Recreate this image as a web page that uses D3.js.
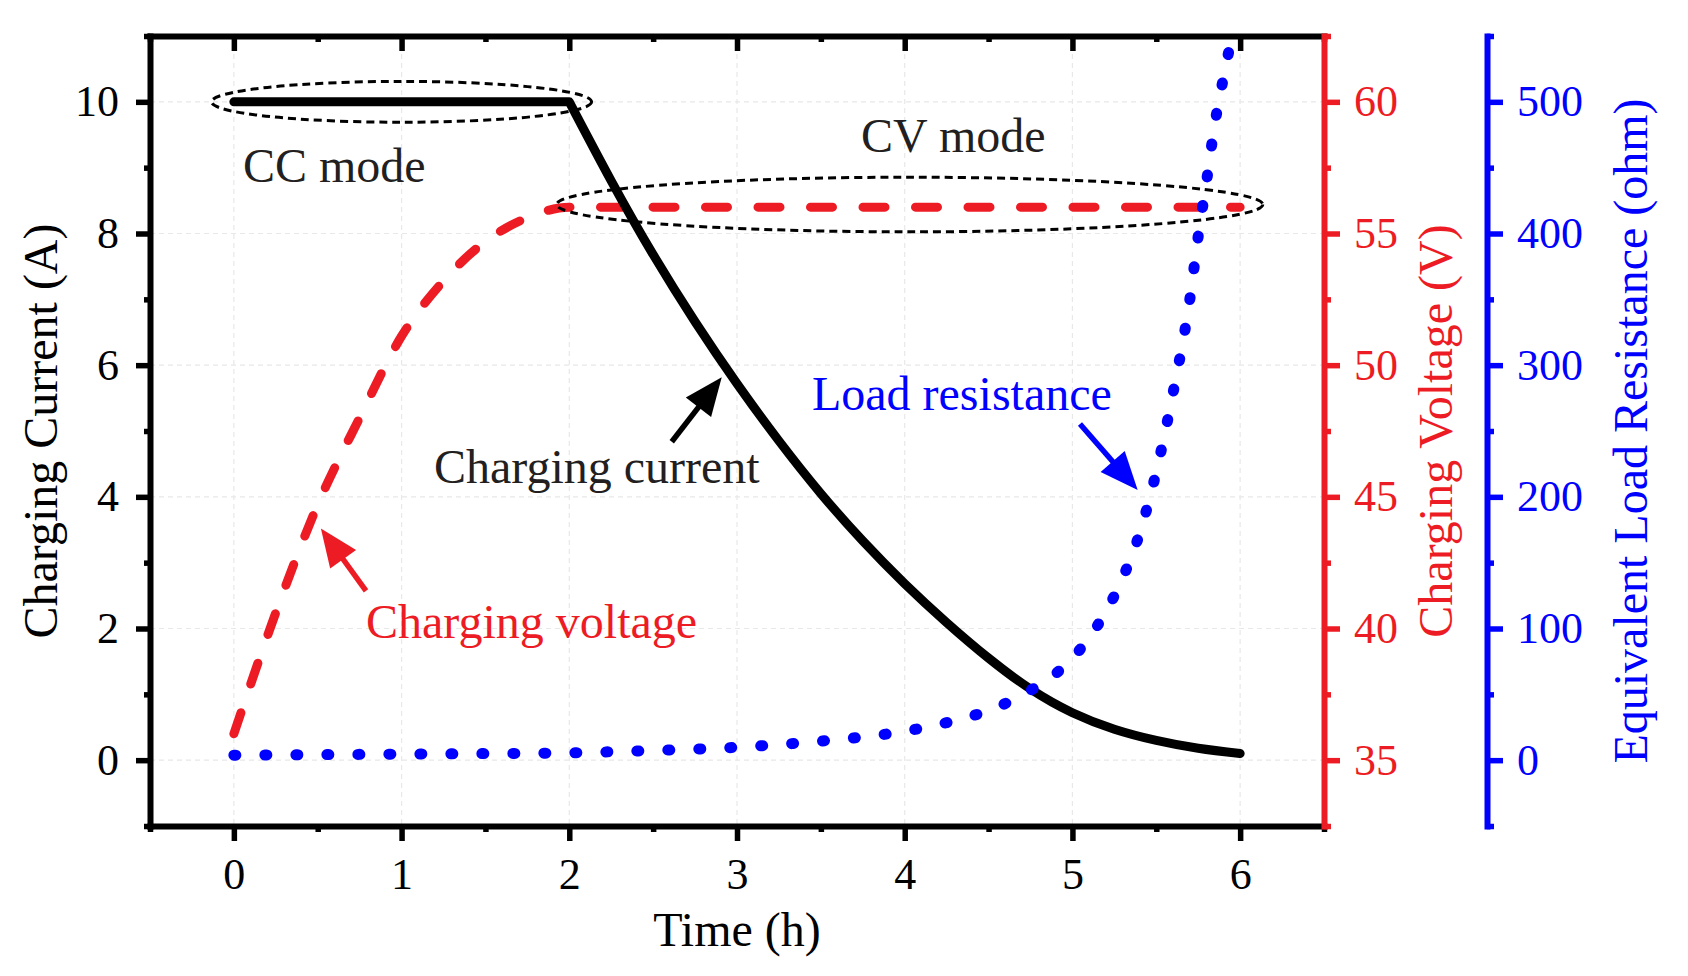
<!DOCTYPE html>
<html><head><meta charset="utf-8">
<script src="https://cdn.jsdelivr.net/npm/d3@7"></script>
<style>
html,body{margin:0;padding:0;background:#fff;}
svg{display:block;font-family:"Liberation Serif","Times New Roman",serif;}
</style></head><body>
<svg id="chart" width="1688" height="976"></svg>
<script>
// ---------- data ----------
const timeH    = [0,0.25,0.5,0.75,1,1.25,1.5,1.75,2,2.25,2.5,2.75,3,3.25,3.5,3.75,4,4.25,4.5,4.75,5,5.25,5.5,5.75,6];
const currentA = [10,10,10,10,10,10,10,10,10,8.8,7.68,6.66,5.72,4.85,4.05,3.33,2.68,2.09,1.55,1.08,0.72,0.47,0.3,0.18,0.1];
const voltageV = [36.0,40.6,44.7,48.0,51.1,53.2,54.7,55.6,56.0,56,56,56,56,56,56,56,56,56,56,56,56,56,56,56,56];
const resistTime = [0,0.5,1,1.5,2,2.5,3,3.5,4,4.25,4.5,4.75,5,5.1,5.2,5.3,5.4,5.5,5.6,5.7,5.75,5.8,5.85,5.9,5.95,6];
const resistOhm  = [3.8,4.2,4.6,5.0,5.6,7.4,9.8,14.5,22,28.5,37.8,53,77.5,93,113,138.5,172,219,279,350,398,440,484,518,549,578];

const xMajor = [0,1,2,3,4,5,6];
const xMinor = [-0.5,0.5,1.5,2.5,3.5,4.5,5.5,6.5];
const iMajor = [0,2,4,6,8,10];
const iMinor = [-1,1,3,5,7,9,11];
const vMajor = [35,40,45,50,55,60];
const vMinor = [32.5,37.5,42.5,47.5,52.5,57.5,62.5];
const rMajor = [0,100,200,300,400,500];
const rMinor = [-50,50,150,250,350,450,550];

const labels = [
  {text:"CC mode", t:0.054, v:8.78, color:"#231f20"},
  {text:"CV mode", t:3.74, v:9.245, color:"#231f20"},
  {text:"Charging current", t:1.193, v:4.21, color:"#231f20"},
  {text:"Charging voltage", t:0.788, v:1.854, color:"#ed1c24"},
  {text:"Load resistance", t:3.447, v:5.32, color:"#0000ff"}
];
const arrows = [
  {from:[2.611,4.837], to:[2.909,5.816], color:"#000000"},
  {from:[0.788,2.57],  to:[0.519,3.52],  color:"#ed1c24"},
  {from:[5.045,5.106], to:[5.389,4.103], color:"#0000ff"}
];
const ellipses = [
  {cx:1.0, cy:10, rx:1.133, ry:0.31},
  {cx:4.03, cy:8.44, rx:2.105, ry:0.415}
];

// ---------- layout ----------
const svg = d3.select("#chart");
const P = {left:150, right:1324, top:36, bottom:826};
const RED = "#ed1c24", BLUE = "#0000ff";
const x  = d3.scaleLinear().domain([-0.5,6.5]).range([P.left,P.right]);
const yI = d3.scaleLinear().domain([-1,11]).range([P.bottom,P.top]);
const yV = d3.scaleLinear().domain([32.5,62.5]).range([P.bottom,P.top]);
const yR = d3.scaleLinear().domain([-50,550]).range([P.bottom,P.top]);

svg.append("defs").append("clipPath").attr("id","plotclip")
  .append("rect").attr("x",P.left).attr("y",P.top).attr("width",P.right-P.left).attr("height",P.bottom-P.top);

// grid
const grid = svg.append("g").attr("stroke","#e8e8e8").attr("stroke-width",1.2).attr("stroke-dasharray","5 4");
grid.selectAll("line.gv").data(xMajor).join("line").attr("class","gv")
  .attr("x1",d=>x(d)).attr("x2",d=>x(d)).attr("y1",P.top).attr("y2",P.bottom);
grid.selectAll("line.gh").data(iMajor).join("line").attr("class","gh")
  .attr("y1",d=>yI(d)).attr("y2",d=>yI(d)).attr("x1",P.left).attr("x2",P.right);

// curves
const plotG = svg.append("g").attr("clip-path","url(#plotclip)");
const vPts = timeH.map((t,i)=>[t,voltageV[i]]);
const cPts = timeH.map((t,i)=>[t,currentA[i]]);
const rPts = resistTime.map((t,i)=>[t,resistOhm[i]]);

const vLine = d3.line().x(d=>x(d[0])).y(d=>yV(d[1])).curve(d3.curveMonotoneX);
plotG.append("path").attr("d",vLine(vPts)).attr("fill","none").attr("stroke",RED)
  .attr("stroke-width",9).attr("stroke-dasharray","22 30.5").attr("stroke-linecap","round");

const linI = d3.line().x(d=>x(d[0])).y(d=>yI(d[1]));
const monoI = d3.line().x(d=>x(d[0])).y(d=>yI(d[1])).curve(d3.curveNatural);
const flat = cPts.filter(d=>d[0]<=2), decay = cPts.filter(d=>d[0]>=2);
const cPath = linI(flat) + monoI(decay).replace(/^M[-\d.,\se]*/,"");
plotG.append("path").attr("d",cPath).attr("fill","none").attr("stroke","#000")
  .attr("stroke-width",9).attr("stroke-linecap","round").attr("stroke-linejoin","round");

const rLine = d3.line().x(d=>x(d[0])).y(d=>yR(d[1])).curve(d3.curveMonotoneX);
plotG.append("path").attr("d",rLine(rPts)).attr("fill","none").attr("stroke",BLUE)
  .attr("stroke-width",11).attr("stroke-dasharray","2 29").attr("stroke-linecap","round");

// ellipses
svg.append("g").selectAll("ellipse").data(ellipses).join("ellipse")
  .attr("cx",d=>x(d.cx)).attr("cy",d=>yI(d.cy))
  .attr("rx",d=>x(d.cx+d.rx)-x(d.cx)).attr("ry",d=>yI(d.cy-d.ry)-yI(d.cy))
  .attr("fill","none").attr("stroke","#000").attr("stroke-width",3).attr("stroke-dasharray","8 5");

// arrows
const HL = 38, HW = 16;
arrows.forEach(a=>{
  const x1=x(a.from[0]), y1=yI(a.from[1]), x2=x(a.to[0]), y2=yI(a.to[1]);
  const L=Math.hypot(x2-x1,y2-y1), ux=(x2-x1)/L, uy=(y2-y1)/L, px=-uy, py=ux;
  const bx=x2-ux*HL, by=y2-uy*HL;
  svg.append("line").attr("x1",x1).attr("y1",y1).attr("x2",bx+ux*4).attr("y2",by+uy*4)
    .attr("stroke",a.color).attr("stroke-width",5.5);
  svg.append("polygon").attr("points",[[x2,y2],[bx+px*HW,by+py*HW],[bx-px*HW,by-py*HW]].map(p=>p.join(",")).join(" "))
    .attr("fill",a.color);
});

// labels
svg.append("g").selectAll("text").data(labels).join("text")
  .attr("x",d=>x(d.t)).attr("y",d=>yI(d.v)).attr("fill",d=>d.color)
  .attr("font-size",48).text(d=>d.text);

// ---------- axes ----------
function styleAxis(g, color){
  g.attr("font-family",null).attr("font-size",null);
  g.select(".domain").attr("stroke",color).attr("stroke-width",6).attr("stroke-linecap","square");
  g.selectAll(".tick line").attr("stroke",color).attr("stroke-width",5.5);
  g.selectAll(".tick text").attr("fill",color).attr("font-size",44)
    .attr("font-family","'Liberation Serif','Times New Roman',serif");
}
function minor(g){ g.select(".domain").remove(); g.selectAll(".tick text").remove(); }

// bottom
let g = svg.append("g").attr("transform",`translate(0,${P.bottom})`);
g.call(d3.axisBottom(x).tickValues(xMinor).tickSize(6).tickFormat("")); minor(g); styleAxis(g,"#000");
g = svg.append("g").attr("transform",`translate(0,${P.bottom})`);
g.call(d3.axisBottom(x).tickValues(xMajor).tickSize(15).tickSizeOuter(0).tickPadding(17).tickFormat(d3.format("d")));
styleAxis(g,"#000");
// top (inward ticks)
g = svg.append("g").attr("transform",`translate(0,${P.top})`);
g.call(d3.axisBottom(x).tickValues(xMinor).tickSize(6).tickFormat("")); minor(g); styleAxis(g,"#000");
g = svg.append("g").attr("transform",`translate(0,${P.top})`);
g.call(d3.axisBottom(x).tickValues(xMajor).tickSize(15).tickSizeOuter(0).tickFormat(""));
styleAxis(g,"#000"); g.selectAll(".tick text").remove();
// left
g = svg.append("g").attr("transform",`translate(${P.left},0)`);
g.call(d3.axisLeft(yI).tickValues(iMinor).tickSize(6).tickFormat("")); minor(g); styleAxis(g,"#000");
g = svg.append("g").attr("transform",`translate(${P.left},0)`);
g.call(d3.axisLeft(yI).tickValues(iMajor).tickSize(14).tickSizeOuter(0).tickPadding(17).tickFormat(d3.format("d")));
styleAxis(g,"#000");
// right red
g = svg.append("g").attr("transform",`translate(${P.right},0)`);
g.call(d3.axisRight(yV).tickValues(vMinor).tickSize(7).tickFormat("")); minor(g); styleAxis(g,RED);
g = svg.append("g").attr("transform",`translate(${P.right},0)`);
g.call(d3.axisRight(yV).tickValues(vMajor).tickSize(16).tickSizeOuter(0).tickPadding(14).tickFormat(d3.format("d")));
styleAxis(g,RED);
// right blue
const RX = 1487;
g = svg.append("g").attr("transform",`translate(${RX},0)`);
g.call(d3.axisRight(yR).tickValues(rMinor).tickSize(7).tickFormat("")); minor(g); styleAxis(g,BLUE);
g = svg.append("g").attr("transform",`translate(${RX},0)`);
g.call(d3.axisRight(yR).tickValues(rMajor).tickSize(16).tickSizeOuter(0).tickPadding(14).tickFormat(d3.format("d")));
styleAxis(g,BLUE);

// axis titles
const midY = (P.top+P.bottom)/2;
svg.append("text").attr("x",(P.left+P.right)/2).attr("y",946).attr("text-anchor","middle")
  .attr("font-size",48).attr("fill","#000").text("Time (h)");
svg.append("text").attr("transform",`translate(57,${midY}) rotate(-90)`).attr("text-anchor","middle")
  .attr("font-size",48).attr("fill","#000").text("Charging Current (A)");
svg.append("text").attr("transform",`translate(1452,${midY}) rotate(-90)`).attr("text-anchor","middle")
  .attr("font-size",48).attr("fill",RED).text("Charging Voltage (V)");
svg.append("text").attr("transform",`translate(1647,${midY}) rotate(-90)`).attr("text-anchor","middle")
  .attr("font-size",48).attr("fill",BLUE).text("Equivalent Load Resistance (ohm)");
</script>
</body></html>
